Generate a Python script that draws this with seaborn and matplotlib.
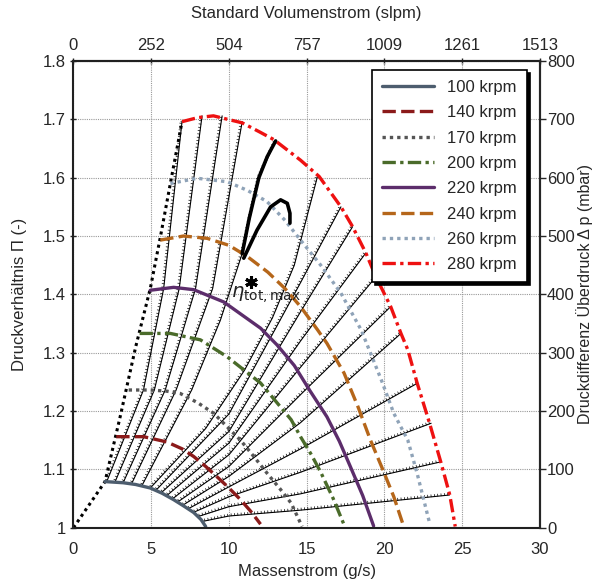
import numpy as np
import pandas as pd
import seaborn as sns
import matplotlib
matplotlib.use("Agg")
import matplotlib.pyplot as plt
from matplotlib import patheffects

sns.set_theme(style="white")
plt.rcParams['font.family'] = ['Liberation Sans', 'DejaVu Sans']

# speed lines (massflow g/s, pressure ratio)
n100_x = [2.03, 3.2, 4.0, 4.94, 5.7, 6.44, 7.1, 7.73, 8.2, 8.5]
n100_pi = [1.079, 1.077, 1.074, 1.068, 1.059, 1.048, 1.037, 1.026, 1.014, 1.002]
n140_x = [2.75, 4.5, 6.0, 7.0, 7.73, 8.5, 9.24, 10.0, 10.74, 11.4, 12.03]
n140_pi = [1.156, 1.156, 1.147, 1.135, 1.122, 1.105, 1.087, 1.068, 1.048, 1.028, 1.006]
n170_x = [3.55, 4.94, 6.0, 6.87, 8.0, 9.02, 10.74, 11.6, 12.46, 13.3, 14.0, 14.7]
n170_pi = [1.236, 1.236, 1.234, 1.230, 1.214, 1.196, 1.150, 1.122, 1.093, 1.066, 1.042, 1.002]
n200_x = [4.25, 6.23, 8.16, 9.88, 12.03, 14.0, 14.6, 15.3, 15.9, 16.7, 17.4]
n200_pi = [1.333, 1.333, 1.322, 1.293, 1.248, 1.185, 1.156, 1.125, 1.095, 1.050, 1.005]
n220_x = [4.94, 6.44, 7.73, 9.66, 12.03, 13.1, 14.2, 15.2, 16.3, 17.1, 17.8, 18.6, 19.3]
n220_pi = [1.407, 1.412, 1.408, 1.387, 1.342, 1.313, 1.278, 1.235, 1.190, 1.148, 1.105, 1.055, 1.003]
n240_x = [5.58, 7.08, 8.6, 10.0, 11.17, 12.5, 13.6, 14.6, 15.7, 16.3, 17.4, 18.3, 19.1, 19.9, 20.6, 21.2]
n240_pi = [1.493, 1.500, 1.496, 1.484, 1.465, 1.438, 1.410, 1.379, 1.339, 1.316, 1.265, 1.207,
           1.150, 1.099, 1.053, 1.005]
n260_x = [6.23, 7.95, 9.9, 11.2, 12.45, 13.6, 14.6, 15.9, 17.2, 18.5, 19.8, 20.6, 21.5, 22.1, 22.9]
n260_pi = [1.590, 1.599, 1.593, 1.578, 1.559, 1.527, 1.493, 1.450, 1.402, 1.339, 1.253, 1.196,
           1.150, 1.093, 1.008]
n280_x = [6.98, 8.0, 9.0, 10.85, 12.0, 12.9, 14.6, 15.8, 17.2, 17.95, 18.8, 19.45, 20.4, 21.06,
          21.5, 22.1, 22.9, 23.65, 24.2, 24.55]
n280_pi = [1.696, 1.703, 1.706, 1.694, 1.678, 1.665, 1.630, 1.602, 1.550, 1.516, 1.471, 1.430,
           1.379, 1.333, 1.305, 1.248, 1.179, 1.110, 1.056, 1.002]

surge_x = [0.0, 2.03, 3.0, 4.0, 4.94, 5.6, 6.3, 6.98]
surge_pi = [1.0, 1.079, 1.19, 1.31, 1.41, 1.50, 1.60, 1.696]

# throttle lines
throttle_x = [
    [2.14, 4.5, 5.8, 6.98],
    [2.68, 5.2, 6.8, 8.27],
    [3.21, 5.9, 7.85, 9.56],
    [3.75, 6.6, 8.95, 10.85],
    [4.4, 7.6, 9.45, 10.85, 11.92, 13.0],
    [4.94, 8.5, 11.0, 12.8, 14.2, 15.69],
    [5.3, 10.0, 14.6, 17.2],
    [5.65, 10.0, 14.6, 17.95],
    [6.0, 10.0, 14.6, 18.8],
    [6.35, 10.0, 14.6, 19.45],
    [6.7, 10.0, 14.6, 20.4],
    [7.0, 10.0, 14.6, 21.06],
    [7.35, 10.0, 14.6, 22.14],
    [7.7, 10.0, 14.6, 23.0],
    [8.0, 10.0, 14.6, 23.65],
    [8.35, 10.0, 14.6, 24.18],
]
throttle_pi = [
    [1.079, 1.236, 1.41, 1.696],
    [1.079, 1.236, 1.41, 1.706],
    [1.078, 1.236, 1.41, 1.706],
    [1.076, 1.236, 1.41, 1.696],
    [1.072, 1.236, 1.356, 1.47, 1.60, 1.663],
    [1.068, 1.17, 1.27, 1.36, 1.45, 1.602],
    [1.064, 1.195, 1.42, 1.550],
    [1.060, 1.165, 1.37, 1.516],
    [1.055, 1.145, 1.32, 1.471],
    [1.049, 1.125, 1.275, 1.430],
    [1.044, 1.105, 1.228, 1.379],
    [1.038, 1.088, 1.18, 1.333],
    [1.032, 1.070, 1.135, 1.248],
    [1.026, 1.053, 1.095, 1.179],
    [1.019, 1.036, 1.058, 1.113],
    [1.011, 1.020, 1.030, 1.056],
]

# efficiency contour (thick)
eta_a_x = [10.85, 11.3, 11.92, 12.46, 13.0]
eta_a_pi = [1.47, 1.53, 1.60, 1.636, 1.663]
eta_b_x = [10.95, 11.8, 12.68, 13.32, 13.75, 13.92, 13.92]
eta_b_pi = [1.462, 1.510, 1.550, 1.562, 1.556, 1.539, 1.522]
eta_max_x = [11.4]
eta_max_pi = [1.422]

speeds = ["100 krpm", "140 krpm", "170 krpm", "200 krpm", "220 krpm", "240 krpm", "260 krpm", "280 krpm"]
top_labels = ["0", "252", "504", "757", "1009", "1261", "1513"]

speed_x = [n100_x, n140_x, n170_x, n200_x, n220_x, n240_x, n260_x, n280_x]
speed_pi = [n100_pi, n140_pi, n170_pi, n200_pi, n220_pi, n240_pi, n260_pi, n280_pi]
colors = ["#4d5d6e", "#8b1a1a", "#555555", "#4a6b2a", "#5c2d6b", "#b5661a", "#8fa3b8", "#ee1111"]
styles = ["-", (0, (4, 1.6)), (0, (1, 1.2)), (0, (4, 1.3, 1, 1.3)), "-", (0, (4, 1.6)),
          (0, (1, 1.2)), (0, (4, 1.3, 1, 1.3))]

fig = plt.figure(figsize=(5.96, 5.85), dpi=100)
ax = fig.add_axes([0.1233, 0.098, 0.7827, 0.7977])

ticked = [patheffects.withTickedStroke(spacing=2.4, angle=90, length=0.65, linewidth=0.5)]
for tx, tp in zip(throttle_x, throttle_pi):
    sns.lineplot(x=tx, y=tp, sort=False, estimator=None, color="black", lw=0.8,
                 path_effects=ticked, ax=ax)

sns.lineplot(x=surge_x, y=surge_pi, sort=False, estimator=None, color="black", lw=2.2,
             linestyle=(0, (1, 1.2)), ax=ax)

handles = []
for sx, sp, c, ls, lab in zip(speed_x, speed_pi, colors, styles, speeds):
    sns.lineplot(x=sx, y=sp, sort=False, estimator=None, color=c, lw=2.4, linestyle=ls, ax=ax)
    handles.append(ax.lines[-1])

sns.lineplot(x=eta_a_x, y=eta_a_pi, sort=False, estimator=None, color="black", lw=2.6, ax=ax)
sns.lineplot(x=eta_b_x, y=eta_b_pi, sort=False, estimator=None, color="black", lw=2.6, ax=ax)
ax.plot(eta_max_x, eta_max_pi, marker=(6, 2, 0), ms=9, mew=2.2, color="black", ls="none")
ax.text(10.1, 1.394, r"$\eta_{\mathrm{tot,max}}$", fontsize=14, color="#222222")

ax.set_xlim(0, 30)
ax.set_ylim(1.0, 1.8)
ax.set_xticks(np.arange(0, 31, 5))
ax.set_yticks(np.arange(1.0, 1.81, 0.1))
ax.set_yticklabels(["1", "1.1", "1.2", "1.3", "1.4", "1.5", "1.6", "1.7", "1.8"])
ax.grid(True, color="#999999", linestyle=(0, (1, 1)), linewidth=0.8)
ax.set_axisbelow(True)
ax.set_xlabel("Massenstrom (g/s)", fontsize=12, labelpad=5)
ax.set_ylabel("Druckverhältnis \u03a0 (-)", fontsize=12, labelpad=11)
ax.tick_params(axis="both", labelsize=12, direction="inout", length=5, width=1, pad=3)
ax.tick_params(axis="x", pad=8)
for s in ax.spines.values():
    s.set_linewidth(1.5)
    s.set_color("black")

top = ax.secondary_xaxis("top")
top.set_xticks(np.arange(0, 31, 5))
top.set_xticklabels(top_labels)
top.tick_params(labelsize=12, direction="inout", length=5, width=1, pad=3)
top.set_xlabel("Standard Volumenstrom (slpm)", fontsize=12, labelpad=15)
top.spines["top"].set_linewidth(1.5)

right = ax.twinx()
right.set_ylim(0, 800)
right.set_yticks(np.arange(0, 801, 100))
right.tick_params(labelsize=12, direction="out", length=4, width=1, pad=1)
right.set_ylabel("Druckdifferenz Überdruck \u0394 p (mbar)", fontsize=11.5, labelpad=1)
right.spines["right"].set_linewidth(1.5)
right.grid(False)

leg = ax.legend(handles, speeds, loc="upper right", bbox_to_anchor=(0.972, 0.981),
                borderaxespad=0, fontsize=12, frameon=True, fancybox=False, framealpha=1,
                edgecolor="black", handlelength=3.1, labelspacing=0.62, borderpad=0.6,
                shadow={"color": "black", "alpha": 1, "ox": 2, "oy": -2})
leg.get_frame().set_linewidth(1.2)
leg.set_zorder(10)

fig.savefig("out.png", dpi=100)
